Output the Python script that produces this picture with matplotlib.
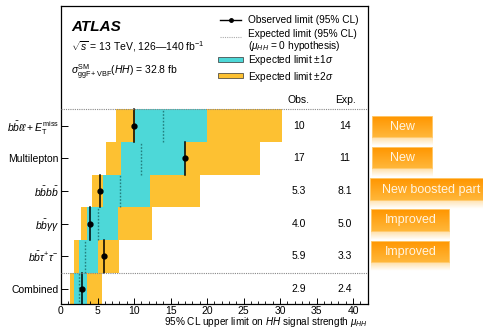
import numpy as np
import matplotlib
matplotlib.use("Agg")
import matplotlib.pyplot as plt
from matplotlib.patches import Rectangle
from matplotlib.colors import to_rgb

plt.rcParams['font.family'] = ['Liberation Sans', 'DejaVu Sans']
plt.rcParams['mathtext.fontset'] = 'custom'
plt.rcParams['mathtext.rm'] = 'Liberation Sans'
plt.rcParams['mathtext.it'] = 'Liberation Sans:italic'
plt.rcParams['mathtext.bf'] = 'Liberation Sans:bold'

# channels, bottom to top
channels = ['Combined', r'$b\bar{b}\tau^{+}\tau^{-}$', r'$b\bar{b}\gamma\gamma$',
            r'$b\bar{b}b\bar{b}$', 'Multilepton',
            r'$b\bar{b}\ell\ell + E_{\mathrm{T}}^{\mathrm{miss}}$']
obs = [2.9, 5.9, 4.0, 5.3, 17, 10]
exp = [2.4, 3.3, 5.0, 8.1, 11, 14]
obs_txt = ['2.9', '5.9', '4.0', '5.3', '17', '10']
exp_txt = ['2.4', '3.3', '5.0', '8.1', '11', '14']
s1_lo = [1.8, 2.4, 3.6, 5.8, 8.2, 10.1]
s1_hi = [3.6, 5.0, 7.8, 12.2, 17.0, 20.0]
s2_lo = [1.3, 1.8, 2.7, 4.3, 6.1, 7.5]
s2_hi = [5.6, 8.0, 12.5, 19.0, 27.3, 30.3]

badges = ['New', 'New', 'New boosted part', 'Improved', 'Improved']
# badge boxes in pixels (x0, x1, y0, y1), top of image = 0
badge_px = [(372, 433, 116, 138), (372, 433, 147, 169), (370, 492, 178, 201),
             (371, 450, 209, 232), (371, 450, 241, 263)]

cyan = '#4dd8d8'
yellow = '#fdc132'

W, H = 483, 329
AX_L, AX_R, AX_T, AX_B = 61, 367.7, 5.5, 304
fig = plt.figure(figsize=(W / 100, H / 100), dpi=100)
ax = fig.add_axes([AX_L / W, 1 - AX_B / H, (AX_R - AX_L) / W, (AX_B - AX_T) / H])


def px(x, y):
    # image pixels -> axes fraction
    return (x - AX_L) / (AX_R - AX_L), (AX_B - y) / (AX_B - AX_T)


y = np.arange(len(channels))
lo2 = np.array(s2_lo); hi2 = np.array(s2_hi)
lo1 = np.array(s1_lo); hi1 = np.array(s1_hi)
ax.barh(y, hi2 - lo2, left=lo2, height=1.0, color=yellow, linewidth=0, zorder=1)
ax.barh(y, hi1 - lo1, left=lo1, height=1.0, color=cyan, linewidth=0, zorder=2)
for i in y:
    ax.plot([exp[i], exp[i]], [i - 0.5, i + 0.5], color='#23807f', ls=(0, (1.2, 1.2)),
            lw=1.0, zorder=3)
    ax.plot([obs[i], obs[i]], [i - 0.5, i + 0.5], color='black', lw=1.1, zorder=4)
ax.plot(obs, y, 'o', color='black', ms=3.5, zorder=5)

# separators
ax.axhline(5.5, color='#888888', ls=(0, (1, 1)), lw=0.8, zorder=6)
ax.axhline(0.5, color='#888888', ls=(0, (1, 1)), lw=0.8, zorder=6)

# obs / exp table
ax.text(32.5, 5.78, 'Obs.', ha='center', va='center', fontsize=7.5)
ax.text(38.9, 5.78, 'Exp.', ha='center', va='center', fontsize=7.5)
for i in y:
    ax.text(32.6, i, obs_txt[i], ha='center', va='center', fontsize=7.5)
    ax.text(38.9, i, exp_txt[i], ha='center', va='center', fontsize=7.5)

ax.set_xlim(0, 42)
ax.set_ylim(-0.46, 8.68)
ax.set_xticks(np.arange(0, 41, 5))
ax.set_xticks(np.arange(0, 42, 1), minor=True)
ax.set_yticks(y)
ax.set_yticklabels(channels, fontsize=7.5)
ax.tick_params(axis='x', which='major', direction='in', length=4.5, width=0.7,
               labelsize=7.5, pad=1.5)
ax.tick_params(axis='x', which='minor', direction='in', length=2.3, width=0.6)
ax.tick_params(axis='y', which='major', direction='in', length=5, width=0.7, pad=1.5)
ax.tick_params(axis='y', which='minor', left=False)
for s in ax.spines.values():
    s.set_linewidth(0.9)
ax.set_xlabel(r'95% CL upper limit on $HH$ signal strength $\mu_{HH}$',
              fontsize=7.2, loc='right', labelpad=-0.8)

# labels top left
ax.text(*px(71, 27), 'ATLAS', transform=ax.transAxes, fontsize=11,
        fontweight='bold', fontstyle='italic', va='center')
ax.text(*px(71, 47), r'$\sqrt{s}$ = 13 TeV, 126—140 fb$^{-1}$',
        transform=ax.transAxes, fontsize=7.5, va='center')
ax.text(*px(71, 72), r'$\sigma^{\mathrm{SM}}_{\mathrm{ggF+VBF}}(HH)$ = 32.8 fb',
        transform=ax.transAxes, fontsize=7.5, va='center')

# legend, drawn by hand to match the row spacing
tr = ax.transAxes
ax.plot(*zip(px(220, 20), px(241, 20)), color='black', lw=1, transform=tr, clip_on=False)
ax.plot(*px(230.5, 20), 'o', color='black', ms=2.5, transform=tr, clip_on=False)
ax.plot(*zip(px(220, 37), px(241, 37)), color='#aaaaaa', lw=0.8, ls=(0, (1, 1)),
        transform=tr, clip_on=False)
for c, ytop in [(cyan, 56.7), (yellow, 73.3)]:
    x0, y0 = px(218.3, ytop + 5)
    x1, y1 = px(243.3, ytop)
    ax.add_patch(Rectangle((x0, y0), x1 - x0, y1 - y0, facecolor=c, edgecolor='#333333',
                           lw=0.5, transform=tr, zorder=7))
leg_text = [(20, 'Observed limit (95% CL)'), (34, 'Expected limit (95% CL)'),
            (46, r'($\mu_{HH}$ = 0 hypothesis)'), (60, r'Expected limit $\pm1\sigma$'),
            (77, r'Expected limit $\pm2\sigma$')]
for ty, txt in leg_text:
    ax.text(*px(248, ty), txt, transform=tr, fontsize=7.3, va='center')

# orange badges on the right
top = np.array(to_rgb('#ff9600'))
bot = np.array(to_rgb('#ffb83c'))
for name, (x0, x1, y0, y1) in zip(badges, badge_px):
    bax = fig.add_axes([x0 / W, 1 - y1 / H, (x1 - x0) / W, (y1 - y0) / H])
    t = np.linspace(0, 1, 32)[:, None, None]
    grad = top * (1 - t) + bot * t
    bax.imshow(np.repeat(grad, 2, axis=1), aspect='auto', extent=(0, 1, 0, 1))
    bax.add_patch(Rectangle((0, 0), 1, 1, fill=False, edgecolor='#ffcf7a', lw=1.2,
                            transform=bax.transAxes))
    bax.text(0.5, 0.5, name, color='#fff4e0', fontsize=9, ha='center', va='center',
             transform=bax.transAxes)
    bax.set_axis_off()
    # faint reflection under the badge
    rax = fig.add_axes([x0 / W, 1 - (y1 + 8) / H, (x1 - x0) / W, 8 / H])
    a = np.linspace(0.45, 0.0, 16)
    refl = np.zeros((16, 2, 4))
    refl[:, :, :3] = to_rgb('#ffc050')
    refl[:, :, 3] = a[:, None]
    rax.imshow(refl, aspect='auto', extent=(0, 1, 0, 1))
    rax.set_axis_off()

fig.savefig('out.png', dpi=100)
